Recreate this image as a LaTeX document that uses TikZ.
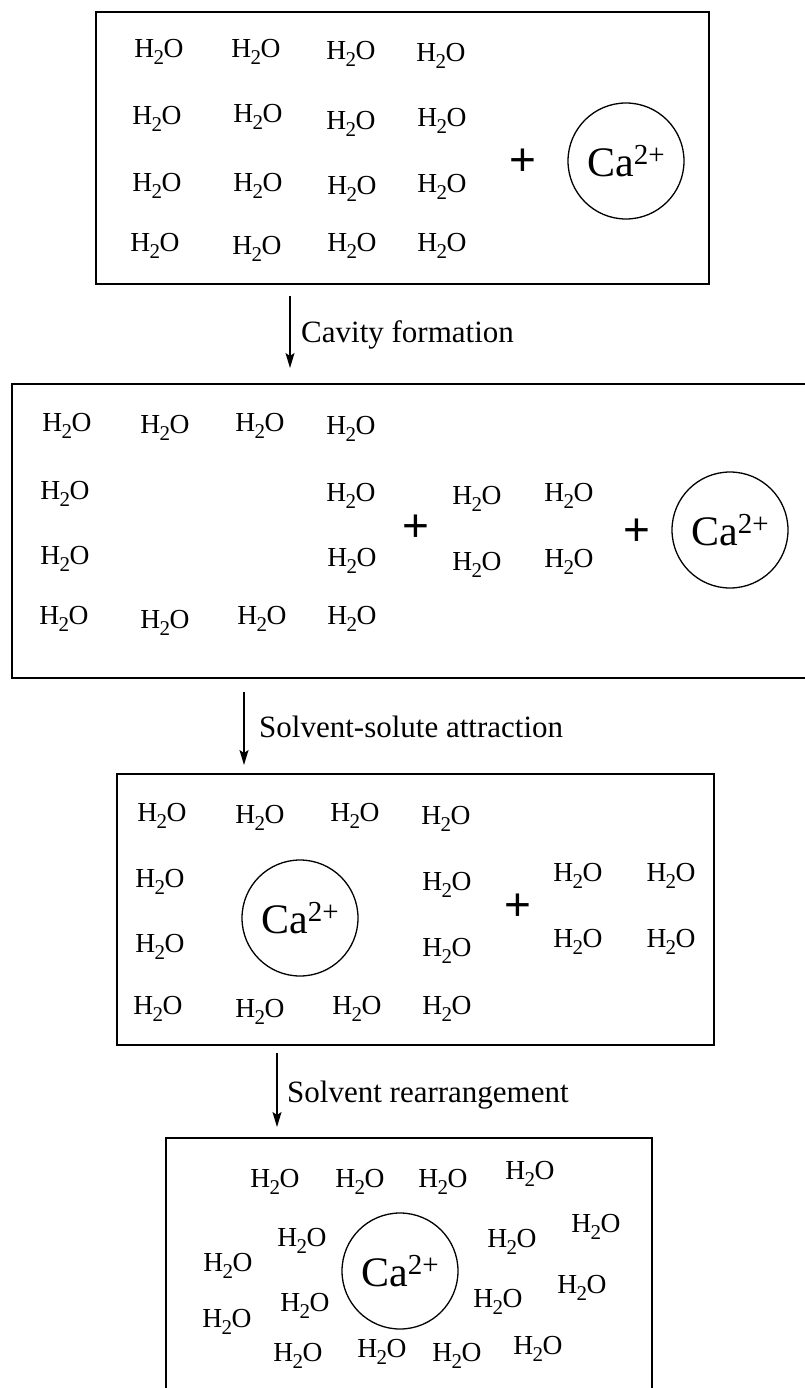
\documentclass[tikz,border=0pt]{standalone}
\usepackage{fontspec}
\setmainfont{Liberation Serif}
\newfontfamily\plusfont{Liberation Sans}
\usetikzlibrary{arrows.meta}
\newcommand{\water}{H\kern-0.8pt\raisebox{-7pt}{\fontsize{21}{21}\selectfont 2}\kern-0.4pt O}
\newcommand{\caion}{{\fontsize{42}{42}\selectfont Ca\raisebox{11.5pt}{\fontsize{29}{29}\selectfont 2+}}}
\begin{document}
\begin{tikzpicture}[x=1pt,y=-1pt,
  w/.style={inner sep=0pt, font=\fontsize{27.5}{27.5}\selectfont},
  ion/.style={circle, draw, line width=1.3pt, minimum size=116pt, inner sep=0pt},
  plus/.style={inner sep=0pt, font=\plusfont\fontsize{46}{46}\selectfont},
  box/.style={draw, line width=1.8pt, inner sep=0pt, anchor=north west},
  arr/.style={line width=1.4pt, -{Stealth[length=15pt,width=9pt,inset=3pt]}},
  lab/.style={anchor=west, inner sep=0pt, font=\fontsize{31}{31}\selectfont}]
\useasboundingbox (0,0) rectangle (804,1388);
\fill[white] (0,0) rectangle (804,1388);

% ---------- box 1
\node[box, minimum width=613pt, minimum height=272pt] (box1) at (95,11) {};
\foreach \px/\py [count=\i] in {159/52,256/52,351/54,441/56,
  157/119,258/117,351/124,442/121,
  157/186,258/186,352/189,442/187,
  155/246,257/249,352/246,442/246}
  \node[w] (a\i) at (\px,\py) {\water};
\node[plus] (p1) at (523,162) {+};
\node[ion] (ca1) at (626,161) {\caion};

% ---------- arrow 1
\coordinate (s1) at (290,296);
\coordinate (e1) at (290,368);
\draw[arr] (s1) -- (e1);
\node[lab] (l1) at (301,335) {Cavity formation};

% ---------- box 2
\node[box, minimum width=796pt, minimum height=294pt] (box2) at (11,383) {};
\foreach \px/\py [count=\i] in {67/426,165/428,260/426,351/429,
  65/494,351/496,
  65/559,352/561,
  64/619,165/623,262/619,352/619,
  477/499,569/496,477/565,569/562}
  \node[w] (b\i) at (\px,\py) {\water};
\node[plus] (p2) at (416,528) {+};
\node[plus] (p3) at (637,532) {+};
\node[ion] (ca2) at (730,530) {\caion};

% ---------- arrow 2
\coordinate (s2) at (244,692);
\coordinate (e2) at (244,765);
\draw[arr] (s2) -- (e2);
\node[lab] (l2) at (259,727) {Solvent-solute attraction};

% ---------- box 3
\node[box, minimum width=597pt, minimum height=271pt] (box3) at (116,773) {};
\foreach \px/\py [count=\i] in {162/816,260/818,355/816,446/819,
  160/882,447/885,
  160/947,447/951,
  158/1009,260/1012,357/1009,447/1009,
  578/876,671/876,578/942,671/942}
  \node[w] (c\i) at (\px,\py) {\water};
\node[plus] (p4) at (518,907) {+};
\node[ion] (ca3) at (300,918) {\caion};

% ---------- arrow 3
\coordinate (s3) at (277,1053);
\coordinate (e3) at (277,1127);
\draw[arr] (s3) -- (e3);
\node[lab] (l3) at (287,1095) {Solvent rearrangement};

% ---------- box 4
\node[box, minimum width=486pt, minimum height=300pt] (box4) at (165,1137) {};
\foreach \px/\py [count=\i] in {275/1182,360/1182,443/1182,530/1174,
  302/1241,596/1227,228/1266,512/1242,
  305/1306,582/1288,227/1322,498/1302,
  298/1356,382/1352,457/1356,538/1349}
  \node[w] (d\i) at (\px,\py) {\water};
\node[ion] (ca4) at (400,1271) {\caion};
\end{tikzpicture}
\end{document}
